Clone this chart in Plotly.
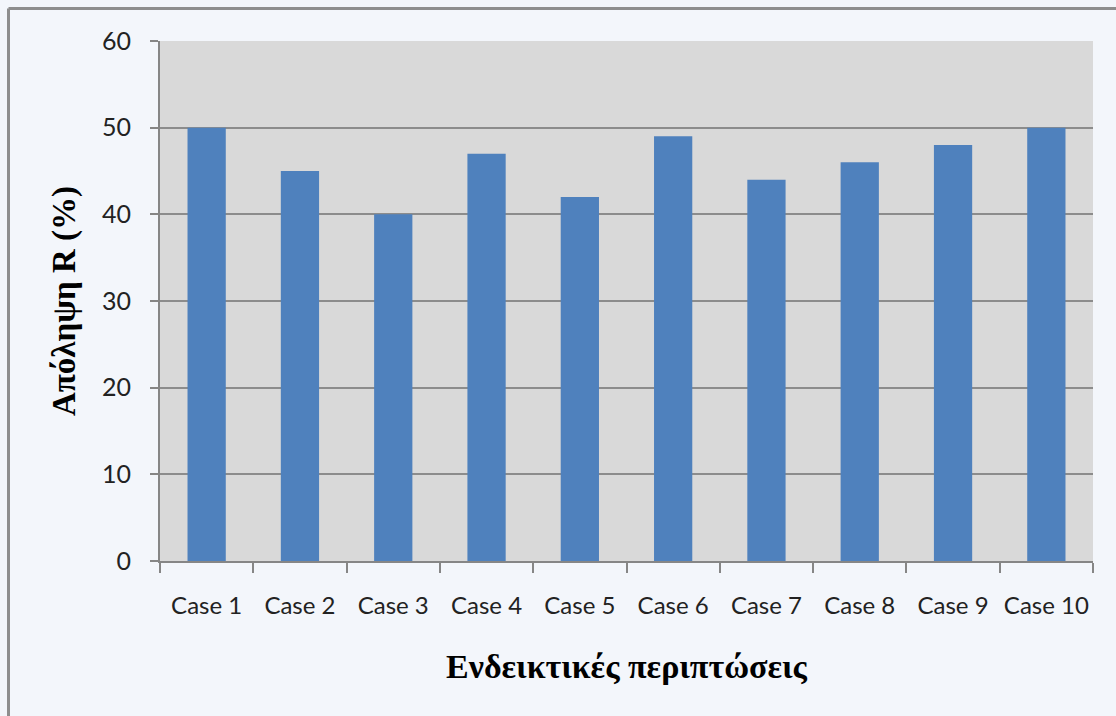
import plotly.graph_objects as go

categories = ["Case 1", "Case 2", "Case 3", "Case 4", "Case 5",
              "Case 6", "Case 7", "Case 8", "Case 9", "Case 10"]
values = [50, 45, 40, 47, 42, 49, 44, 46, 48, 50]
y_ticks = [0, 10, 20, 30, 40, 50, 60]

L, R, T, B = 160, 23, 41, 155
W, H = 1116, 716
pw, ph = W - L - R, H - T - B

fig = go.Figure(go.Bar(x=categories, y=values, marker_color="#4f81bd",
                       marker_line_width=0, width=0.41))

border = "#8e8e8e"
bx = (8.5 - L) / pw
by = 1 + (T - 8.5) / ph
fig.add_shape(type="line", xref="paper", yref="paper", x0=bx, x1=bx,
              y0=by, y1=-(B + 5) / ph, line=dict(color=border, width=3))
fig.add_shape(type="line", xref="paper", yref="paper", x0=bx, x1=1 + (R + 5) / pw,
              y0=by, y1=by, line=dict(color=border, width=3))

fig.update_layout(
    width=W, height=H,
    margin=dict(l=L, r=R, t=T, b=B),
    paper_bgcolor="#f3f6fb",
    plot_bgcolor="#d9d9d9",
    showlegend=False,
    font=dict(family="Lato, 'Open Sans', sans-serif", color="#222222"),
)
fig.update_xaxes(
    automargin=False, tickangle=0,
    showline=True, linecolor="#868686", linewidth=2,
    ticks="outside", tickson="boundaries", ticklen=10, tickcolor="#868686", tickwidth=2,
    tickfont=dict(size=24, family="Lato, 'Open Sans', sans-serif"),
    ticklabelstandoff=22,
    title=dict(text="<b>Ενδεικτικές περιπτώσεις</b>",
               font=dict(family="'Liberation Serif', 'Times New Roman', serif", size=34, color="#000000"),
               standoff=36),
    showgrid=False,
)
fig.update_yaxes(
    automargin=False,
    range=[0, 60], tickvals=y_ticks, showgrid=True, gridcolor="#8c8c8c", gridwidth=1.5,
    showline=True, linecolor="#868686", linewidth=2,
    ticks="outside", ticklen=8, tickcolor="#868686", tickwidth=2,
    tickfont=dict(size=25, family="Lato, 'Open Sans', sans-serif"),
    ticklabelstandoff=14,
    zeroline=False,
    title=dict(text="<b>Απόληψη R (%)</b>",
               font=dict(family="'Liberation Serif', 'Times New Roman', serif", size=33, color="#000000"),
               standoff=16),
)

fig.write_html("out.html")
